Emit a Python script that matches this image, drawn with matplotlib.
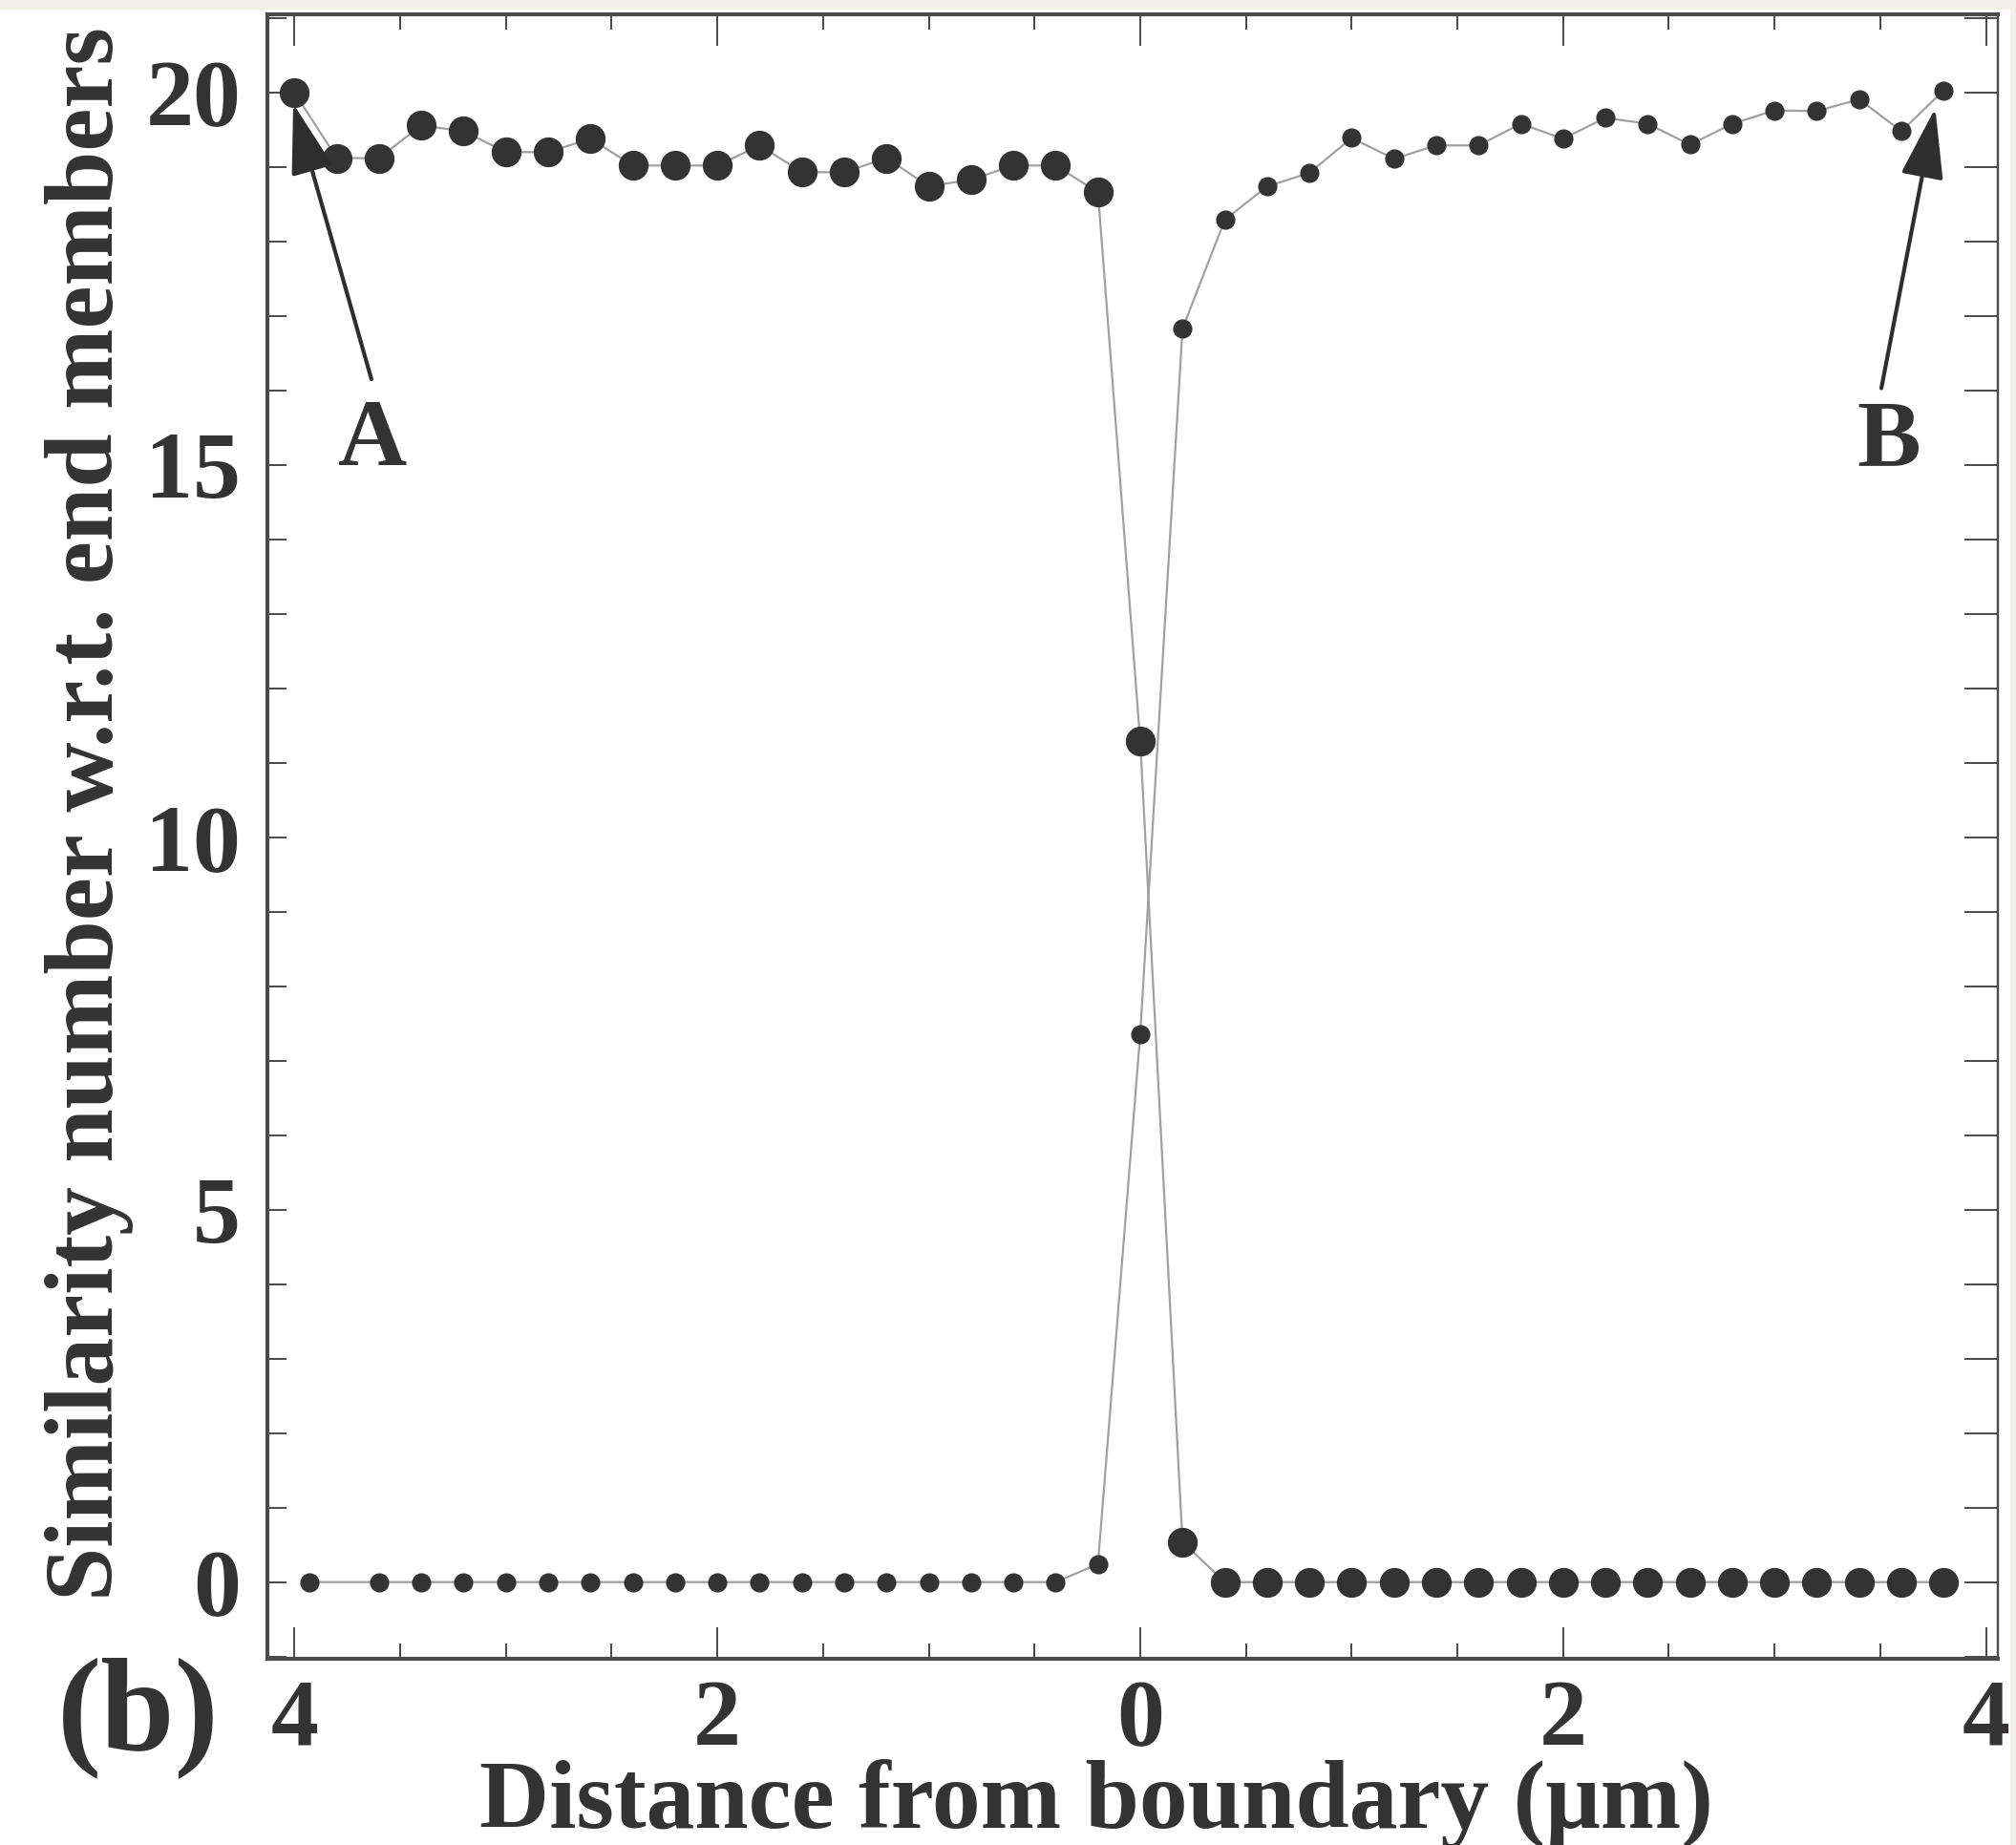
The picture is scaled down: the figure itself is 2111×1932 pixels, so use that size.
import matplotlib
matplotlib.use("Agg")
import matplotlib.pyplot as plt
from matplotlib.ticker import MultipleLocator, FixedLocator, FixedFormatter
from matplotlib.patches import Rectangle

# ---------------- data ----------------
# distance from boundary (negative = side A, positive = side B), µm
x_A = [-4.0, -3.8, -3.6, -3.4, -3.2, -3.0, -2.8, -2.6, -2.4, -2.2,
       -2.0, -1.8, -1.6, -1.4, -1.2, -1.0, -0.8, -0.6, -0.4, -0.2,
       0.0, 0.2, 0.4, 0.6, 0.8, 1.0, 1.2, 1.4, 1.6, 1.8,
       2.0, 2.2, 2.4, 2.6, 2.8, 3.0, 3.2, 3.4, 3.6, 3.8]
sim_A = [20.0, 19.12, 19.12, 19.56, 19.48, 19.20, 19.20, 19.38, 19.02, 19.02,
         19.02, 19.29, 18.93, 18.93, 19.12, 18.74, 18.83, 19.02, 19.02, 18.66,
         11.29, 0.54, 0.0, 0.0, 0.0, 0.0, 0.0, 0.0, 0.0, 0.0,
         0.0, 0.0, 0.0, 0.0, 0.0, 0.0, 0.0, 0.0, 0.0, 0.0]

x_B = [-3.93, -3.6, -3.4, -3.2, -3.0, -2.8, -2.6, -2.4, -2.2,
       -2.0, -1.8, -1.6, -1.4, -1.2, -1.0, -0.8, -0.6, -0.4, -0.2,
       0.0, 0.2, 0.4, 0.6, 0.8, 1.0, 1.2, 1.4, 1.6, 1.8,
       2.0, 2.2, 2.4, 2.6, 2.8, 3.0, 3.2, 3.4, 3.6, 3.8]
sim_B = [0.0, 0.0, 0.0, 0.0, 0.0, 0.0, 0.0, 0.0, 0.0,
         0.0, 0.0, 0.0, 0.0, 0.0, 0.0, 0.0, 0.0, 0.0, 0.24,
         7.36, 16.83, 18.29, 18.74, 18.92, 19.39, 19.11, 19.29, 19.29, 19.58,
         19.38, 19.66, 19.58, 19.30, 19.58, 19.76, 19.75, 19.91, 19.48, 20.03]

x_ticks = [-4, -2, 0, 2, 4]
x_tick_labels = ["4", "2", "0", "2", "4"]
y_ticks = [0, 5, 10, 15, 20]
y_tick_labels = ["0", "5", "10", "15", "20"]

xlabel = "Distance from boundary (\u03bcm)"
ylabel = "Similarity number w.r.t. end members"
panel = "(b)"
label_A = "A"
label_B = "B"

# ---------------- style ----------------
W, H, DPI = 2111, 1932, 100
FONT = ["Liberation Serif", "DejaVu Serif"]
TXT = "#333333"
MK = "#333333"
LN = "#a0a0a0"
SP = "#4a4a4a"

plt.rcParams["font.family"] = FONT
plt.rcParams["font.weight"] = "bold"

fig = plt.figure(figsize=(W / DPI, H / DPI), dpi=DPI, facecolor="#f3f0e9")
fig.patches.append(Rectangle((0, 0), 2105 / W, 1 - 10 / H, transform=fig.transFigure,
                             facecolor="white", edgecolor="none", zorder=-10))

ax = fig.add_axes([280 / W, 1 - 1737 / H, (2092 - 280) / W, (1737 - 15) / H])
ax.set_xlim(-4.128, 4.056)
ax.set_ylim(-1.03, 21.05)

ax.plot(x_A, sim_A, color=LN, lw=1.6, zorder=2)
ax.plot(x_B, sim_B, color=LN, lw=1.6, zorder=2)
ax.plot(x_A, sim_A, ls="none", marker="o", ms=21.5, color=MK, mec=MK, zorder=3)
ax.plot(x_B, sim_B, ls="none", marker="o", ms=13.5, color=MK, mec=MK, zorder=3)

# ticks
ax.xaxis.set_major_locator(FixedLocator(x_ticks))
ax.xaxis.set_major_formatter(FixedFormatter(x_tick_labels))
ax.xaxis.set_minor_locator(MultipleLocator(0.5))
ax.yaxis.set_major_locator(FixedLocator(y_ticks))
ax.yaxis.set_major_formatter(FixedFormatter(y_tick_labels))
ax.yaxis.set_minor_locator(MultipleLocator(1))

ax.tick_params(axis="x", which="both", direction="in", top=True, bottom=True,
               color=SP, width=1.4, labelsize=72, labelcolor=TXT, pad=15)
ax.tick_params(axis="x", which="major", length=24)
ax.tick_params(axis="x", which="minor", length=11.5)
ax.tick_params(axis="y", which="both", direction="in", left=True, right=False,
               length=14.5, color=SP, width=1.4, labelsize=72, labelcolor=TXT, pad=20)
for lab in ax.get_xticklabels() + ax.get_yticklabels():
    lab.set_fontweight("bold")

sec = ax.secondary_yaxis("right")
sec.yaxis.set_major_locator(FixedLocator(y_ticks))
sec.yaxis.set_minor_locator(MultipleLocator(1))
sec.tick_params(axis="y", which="both", direction="in", length=25, color=SP,
                width=1.4, labelright=False)
sec.spines["right"].set_color(SP)
sec.spines["right"].set_linewidth(1.6)

for s in ["left", "top", "bottom"]:
    ax.spines[s].set_color(SP)
    ax.spines[s].set_linewidth(3.0)
ax.spines["right"].set_color(SP)
ax.spines["right"].set_linewidth(1.6)

# annotations A and B
arrow_kw = dict(arrowstyle="-|>,head_length=2.3,head_width=0.7", mutation_scale=20,
                color="#2e2e2e", lw=3.0, shrinkA=0, shrinkB=0)
ax.annotate("", xy=(-4.006, 19.85), xytext=(-3.636, 16.15), arrowprops=arrow_kw, zorder=4)
ax.annotate("", xy=(3.76, 19.79), xytext=(3.505, 16.03), arrowprops=arrow_kw, zorder=4)
ax.text(-3.63, 15.0, label_A, fontsize=72, fontweight="bold", color=TXT,
        ha="center", va="baseline")
ax.text(3.54, 15.0, label_B, fontsize=72, fontweight="bold", color=TXT,
        ha="center", va="baseline")

# labels
fig.text(1148 / W, 1 - 1914 / H, xlabel, fontsize=73, fontweight="bold", color=TXT,
         ha="center", va="baseline")
fig.text(118 / W, 1 - 852 / H, ylabel, fontsize=73, fontweight="bold", color=TXT,
         ha="center", va="baseline", rotation=90, rotation_mode="anchor")
fig.text(60 / W, 1 - 1833 / H, panel, fontsize=100, fontweight="bold", color=TXT,
         ha="left", va="baseline")

fig.savefig("out.png", dpi=DPI, facecolor=fig.get_facecolor())
